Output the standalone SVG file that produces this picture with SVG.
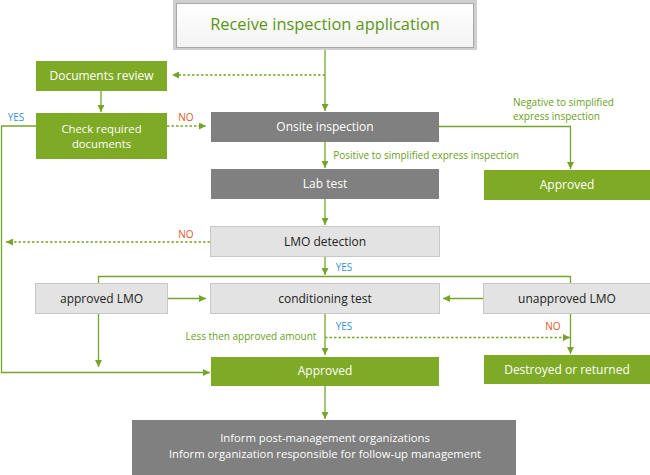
<svg xmlns="http://www.w3.org/2000/svg" width="650" height="475" viewBox="0 0 650 475">
<defs>
<marker id="ah" viewBox="0 0 10 10" refX="10" refY="5" markerWidth="7" markerHeight="7" markerUnits="userSpaceOnUse" orient="auto"><path d="M0,0 L10,5 L0,10 z" fill="#78a32a"/></marker>
<linearGradient id="tg" x1="0" y1="0" x2="0" y2="1"><stop offset="0" stop-color="#ffffff"/><stop offset="1" stop-color="#f3f3f3"/></linearGradient>
</defs>
<style>
text{font-family:"Open Sans","Noto Sans",sans-serif;text-anchor:middle}
.g{fill:#7faa26}
.d{fill:#808080}
.l{fill:#e3e3e3;stroke:#c7c7c7;stroke-width:1}
.w{fill:#ffffff;font-size:12px}
.w2{fill:#ffffff;font-size:11.3px}
.k{fill:#222222;font-size:12px}
.c{fill:none;stroke:#78a32a;stroke-width:1.3}
.dt{fill:none;stroke:#78a32a;stroke-width:1.3;stroke-dasharray:2.5,2}
.lab{font-size:10px;fill:#6a9e1d}
.yes{font-size:10px;fill:#3a8fd4}
.no{font-size:10px;fill:#e5561b}
</style>
<g id="connectors">
<path class="c" d="M325,50 V111" marker-end="url(#ah)"/>
<path class="dt" d="M325,75 H172" marker-end="url(#ah)"/>
<path class="c" d="M101,91 V112" marker-end="url(#ah)"/>
<path class="dt" d="M167,126 H206" marker-end="url(#ah)"/>
<path class="c" d="M36,126 H1.5 V372.5 H210" marker-end="url(#ah)"/>
<path class="c" d="M325,142 V168" marker-end="url(#ah)"/>
<path class="c" d="M439,126.5 H570.5 V169" marker-end="url(#ah)"/>
<path class="c" d="M325,199 V225" marker-end="url(#ah)"/>
<path class="dt" d="M210,242 H6" marker-end="url(#ah)"/>
<path class="c" d="M325,257 V275" marker-end="url(#ah)"/>
<path class="c" d="M98.5,283 V276.5 H570.5 V283"/>
<path class="c" d="M167,298.5 H206" marker-end="url(#ah)"/>
<path class="c" d="M483,298.5 H443" marker-end="url(#ah)"/>
<path class="c" d="M325,314 V355" marker-end="url(#ah)"/>
<path class="dt" d="M325,337.5 H570" marker-end="url(#ah)"/>
<path class="c" d="M570.5,314 V354" marker-end="url(#ah)"/>
<path class="c" d="M98.5,314 V367" marker-end="url(#ah)"/>
<path class="c" d="M325,386 V419" marker-end="url(#ah)"/>
<text class="yes" x="16" y="121">YES</text>
<text class="no" x="186" y="121">NO</text>
<text class="lab" x="426" y="158.5">Positive to simplified express inspection</text>
<text class="lab" x="513" y="106" style="text-anchor:start">Negative to simplified</text>
<text class="lab" x="513" y="120" style="text-anchor:start">express inspection</text>
<text class="no" x="186" y="238">NO</text>
<text class="yes" x="344" y="271">YES</text>
<text class="lab" x="251" y="339.5">Less then approved amount</text>
<text class="yes" x="344" y="329.5">YES</text>
<text class="no" x="553" y="329.5">NO</text>
</g>
<g id="n-receive">
<rect x="173" y="0" width="304" height="50" fill="#cfcfcf"/>
<rect x="176.5" y="3.5" width="297" height="44" fill="url(#tg)" stroke="#a8a8a8"/>
<text x="325" y="30" style="font-size:16.4px;fill:#5b9618">Receive inspection application</text>
</g>
<g id="n-docreview"><rect class="g" x="36" y="61" width="131" height="30"/><text class="w" x="101.5" y="80">Documents review</text></g>
<g id="n-check"><rect class="g" x="36" y="113" width="131" height="46"/><text class="w2" x="101.5" y="132.5">Check required</text><text class="w2" x="101.5" y="148">documents</text></g>
<g id="n-onsite"><rect class="d" x="211" y="112" width="228" height="30"/><text class="w" x="325" y="131">Onsite inspection</text></g>
<g id="n-labtest"><rect class="d" x="211" y="169" width="228" height="30"/><text class="w" x="325" y="188">Lab test</text></g>
<g id="n-approved1"><rect class="g" x="484" y="170" width="166" height="30"/><text class="w" x="567" y="189">Approved</text></g>
<g id="n-lmo"><rect class="l" x="210.5" y="226.5" width="229" height="30"/><text class="k" x="325" y="246">LMO detection</text></g>
<g id="n-approvedlmo"><rect class="l" x="35.5" y="283.5" width="132" height="30"/><text class="k" x="101.5" y="303">approved LMO</text></g>
<g id="n-cond"><rect class="l" x="210.5" y="283.5" width="229" height="30"/><text class="k" x="325" y="303">conditioning test</text></g>
<g id="n-unapproved"><rect class="l" x="483.5" y="283.5" width="167" height="30"/><text class="k" x="567" y="303">unapproved LMO</text></g>
<g id="n-approved2"><rect class="g" x="211" y="357" width="228" height="29"/><text class="w" x="325" y="375">Approved</text></g>
<g id="n-destroyed"><rect class="g" x="484" y="355" width="166" height="29"/><text class="w" x="567" y="374">Destroyed or returned</text></g>
<g id="n-inform"><rect class="d" x="132" y="420" width="384" height="55"/><text class="w2" x="325" y="442">Inform post-management organizations</text><text class="w2" x="325" y="457.5">Inform organization responsible for follow-up management</text></g>
</svg>
